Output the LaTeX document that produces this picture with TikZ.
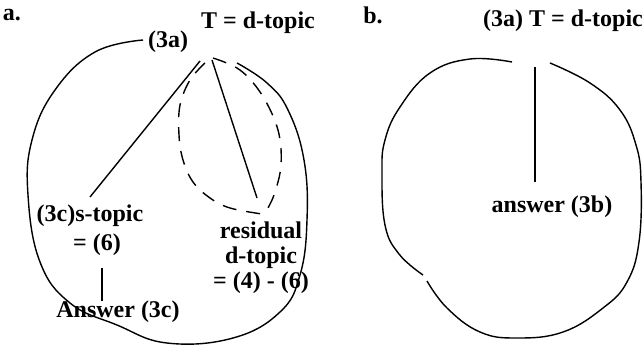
\documentclass[tikz,border=0pt]{standalone}
\usepackage{fontspec}
\setmainfont{Liberation Serif}
\usepackage{tikz}
\usetikzlibrary{positioning, calc}

\begin{document}
\begin{tikzpicture}[
        x=0.5pt, y=-0.5pt,
        % Styles
        lbl/.style={inner sep=1pt, font=\fontsize{12}{12.5}\selectfont\bfseries, align=center},
        panel/.style={inner sep=1pt, font=\fontsize{12}{13}\selectfont\bfseries},
        curve/.style={line width=0.7pt},
        link/.style={line width=0.7pt},
        lens/.style={line width=0.7pt, dash pattern=on 7pt off 5pt},
    ]
    \useasboundingbox (0,0) rectangle (643,349);

    % Panel a
    \node[panel] (pa) at (12,15) {a.};
    \node[lbl] (tA) at (258,23) {T = d-topic};
    \node[lbl] (threeA) at (168,42) {(3a)};
    \node[lbl] (stopic) at (90,216) {(3c)s-topic};
    \node[lbl] (six) at (97,245) {= (6)};
    \node[lbl] (ansA) at (118,312) {Answer (3c)};
    \node[lbl] (resid) at (261,258) {residual\\d-topic\\= (4) - (6)};
    \coordinate (apexA) at (208,59);
    \coordinate (leftEnd) at (90,197);
    \coordinate (midEnd) at (257,198);

    % Outer curve
    \draw[curve] plot[smooth, tension=0.7] coordinates {
        (143,40) (95,52) (55,90) (32,140) (28,195) (40,262) (70,303)
        (117,325) (167,343) (233,338) (280,312) (300,275) (307,220)
        (304,160) (288,110) (267,83) (237,63)};

    % Dashed lens
    \draw[lens] plot[smooth, tension=0.6] coordinates {
        (205,63) (190,80) (180,105) (179,135) (183,160) (193,182)
        (210,198) (230,208) (262,214)};
    \draw[lens] plot[smooth, tension=0.6] coordinates {
        (213,58) (240,70) (262,95) (278,130) (281,165) (274,195) (265,213)};

    % Lines from apex
    \draw[link] ($(apexA)+(-8,2)$) -- (leftEnd);
    \draw[link] ($(apexA)+(4,1)$) -- (midEnd);
    \draw[link] ($(six.south)+(5,10)$) -- ($(ansA.north)+(-16,2)$);

    % Panel b
    \node[panel] (pb) at (373,15) {b.};
    \node[lbl] (tB) at (563,21) {(3a) T = d-topic};
    \node[lbl] (ansB) at (552,207) {answer (3b)};
    \coordinate (apexB) at (535,67);

    \draw[curve] plot[smooth, tension=0.7] coordinates {
        (512,62) (470,59) (430,73) (400,107) (385,140) (382,173)
        (385,225) (399,254) (423,275)};
    \draw[curve] plot[smooth, tension=0.7] coordinates {
        (427,281) (447,308) (480,332) (517,338) (563,332) (603,308)
        (627,282) (639,242) (641,182) (636,145) (620,110) (590,83) (550,63)};

    \draw[link] (apexB) -- ($(ansB.north)+(-17,-12)$);

\end{tikzpicture}
\end{document}
